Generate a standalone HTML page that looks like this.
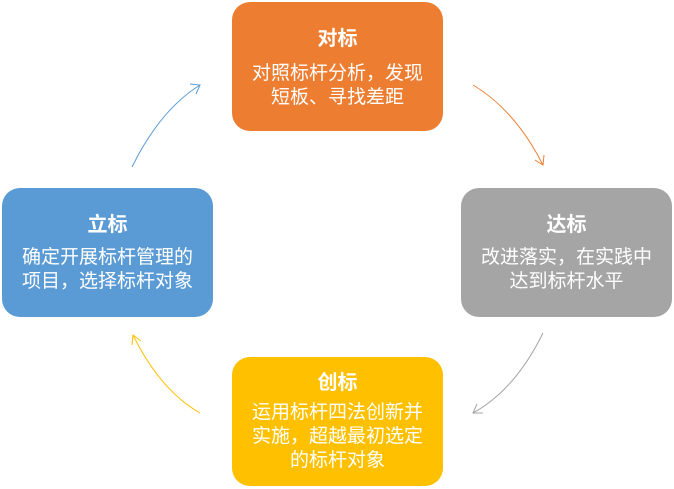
<!DOCTYPE html>
<html><head><meta charset="utf-8"><style>
body{margin:0;width:674px;height:489px;background:#fff;position:relative;overflow:hidden;font-family:"Liberation Sans","Noto Sans CJK SC",sans-serif}
.b{position:absolute;width:211px;height:129px;border-radius:18px;color:#fff;text-align:center;box-sizing:border-box}
.t{font-weight:bold;font-size:20px;line-height:26px}
.d{font-size:19px;line-height:24px;white-space:nowrap}
</style></head><body>
<svg width="674" height="489" style="position:absolute;left:0;top:0">
<g fill="none" stroke-width="1">
<path d="M132 167 Q160 110 200 85" stroke="#5B9BD5"/><path d="M190 84 L200 85 L196 94" stroke="#5B9BD5"/>
<path d="M473 85 Q515 110 543 165" stroke="#ED7D31"/><path d="M535 160 L543 165 L544 155" stroke="#ED7D31"/>
<path d="M543 333 Q515 390 473 413" stroke="#A5A5A5"/><path d="M483 413 L473 413 L477 404" stroke="#A5A5A5"/>
<path d="M200 413 Q160 390 133 335" stroke="#FFC000"/><path d="M132 345 L133 335 L141 341" stroke="#FFC000"/>
</g></svg>
<div class="b" style="left:232px;top:2px;background:#ED7D31;padding-top:24px"><div class="t">对标</div><div class="d" style="margin-top:10px">对照标杆分析，发现<br>短板、寻找差距</div></div>
<div class="b" style="left:461px;top:188px;background:#A5A5A5;padding-top:24px"><div class="t">达标</div><div class="d" style="margin-top:8px">改进落实，在实践中<br>达到标杆水平</div></div>
<div class="b" style="left:232px;top:357px;background:#FFC000;padding-top:13px"><div class="t">创标</div><div class="d" style="margin-top:5px">运用标杆四法创新并<br>实施，超越最初选定<br>的标杆对象</div></div>
<div class="b" style="left:2px;top:188px;background:#5B9BD5;padding-top:24px"><div class="t">立标</div><div class="d" style="margin-top:8px">确定开展标杆管理的<br>项目，选择标杆对象</div></div>
</body></html>
